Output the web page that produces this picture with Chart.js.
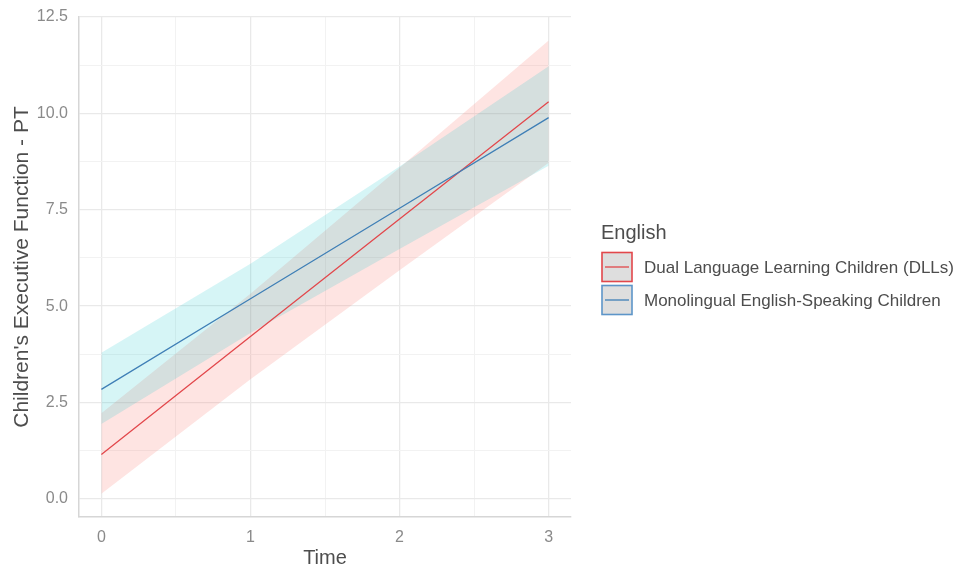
<!DOCTYPE html>
<html>
<head>
<meta charset="utf-8">
<script src="https://cdn.jsdelivr.net/npm/chart.js@4"></script>
<style>
  html, body { margin: 0; padding: 0; background: #ffffff; }
  #wrap { width: 967px; height: 570px; position: relative; }
</style>
</head>
<body>
<div id="wrap"><canvas id="chart" width="967" height="570"></canvas></div>
<script>
// Predicted executive function by time point, with 95% confidence ribbons
const timePoints = [0, 1, 2, 3];

const dllFit  = [1.15, 4.21, 7.26, 10.30];
const dllLow  = [0.13, 3.10, 5.93, 8.72];
const dllHigh = [2.22, 5.32, 8.59, 11.89];

const monoFit  = [2.84, 5.19, 7.54, 9.89];
const monoLow  = [1.94, 4.30, 6.48, 8.64];
const monoHigh = [3.79, 6.10, 8.62, 11.22];

const seriesNames = [
  'Dual Language Learning Children (DLLs)',
  'Monolingual English-Speaking Children'
];

const xTicks = [0, 1, 2, 3];
const xMinor = [0.5, 1.5, 2.5];
const yTicks = [0, 2.5, 5, 7.5, 10, 12.5];
const yMinor = [1.25, 3.75, 6.25, 8.75, 11.25];

const RED_LINE = '#e2474b';
const BLUE_LINE = '#3f7fb6';
const RED_FILL = 'rgba(248,118,109,0.2)';
const BLUE_FILL = 'rgba(0,191,196,0.16)';
const FONT = '"Liberation Sans", Arial, sans-serif';

const pts = (ys) => timePoints.map((t, i) => ({ x: t, y: ys[i] }));

const ribbonBase = { pointRadius: 0, borderWidth: 0, tension: 0 };
const lineBase = { pointRadius: 0, borderWidth: 1.3, fill: false, tension: 0 };

// Custom legend with grey key boxes outlined in the series colour
const keyLegend = {
  id: 'keyLegend',
  afterDraw(chart) {
    const ctx = chart.ctx;
    ctx.save();
    ctx.textBaseline = 'middle';
    ctx.textAlign = 'left';
    ctx.fillStyle = '#4d4d4d';
    ctx.font = '20px ' + FONT;
    ctx.fillText('English', 601, 233);
    const colours = [RED_LINE, '#5d95c8'];
    const lines = [RED_LINE, BLUE_LINE];
    const rows = [267, 300];
    rows.forEach((cy, i) => {
      const x = 602, w = 30, h = 29, y = cy - h / 2;
      ctx.fillStyle = '#dedede';
      ctx.fillRect(x, y, w, h);
      ctx.strokeStyle = colours[i];
      ctx.lineWidth = 1.6;
      ctx.strokeRect(x, y, w, h);
      ctx.beginPath();
      ctx.moveTo(x + 3, cy);
      ctx.lineTo(x + w - 3, cy);
      ctx.strokeStyle = lines[i];
      ctx.lineWidth = 1.3;
      ctx.stroke();
      ctx.fillStyle = '#4d4d4d';
      ctx.font = '17px ' + FONT;
      ctx.fillText(seriesNames[i], 644, cy + 1);
    });
    ctx.restore();
  }
};

const gridColour = (majors) => (c) =>
  (c.tick && majors.includes(c.tick.value)) ? '#e9e9e9' : '#f2f2f2';
const gridWidth = (majors) => (c) =>
  (c.tick && majors.includes(c.tick.value)) ? 1.3 : 1;

new Chart(document.getElementById('chart'), {
  type: 'line',
  data: {
    datasets: [
      { ...ribbonBase, data: pts(dllLow), fill: false, order: 5 },
      { ...ribbonBase, data: pts(dllHigh), fill: '-1', backgroundColor: RED_FILL, order: 4 },
      { ...ribbonBase, data: pts(monoLow), fill: false, order: 3 },
      { ...ribbonBase, data: pts(monoHigh), fill: '-1', backgroundColor: BLUE_FILL, order: 2 },
      { ...lineBase, label: seriesNames[0], data: pts(dllFit), borderColor: RED_LINE, order: 1 },
      { ...lineBase, label: seriesNames[1], data: pts(monoFit), borderColor: BLUE_LINE, order: 0 }
    ]
  },
  options: {
    responsive: false,
    animation: false,
    events: [],
    layout: { padding: { left: 0, top: 17, right: 396, bottom: 0 } },
    plugins: {
      legend: { display: false },
      tooltip: { enabled: false },
      filler: { propagate: false }
    },
    scales: {
      x: {
        type: 'linear',
        min: -0.15,
        max: 3.15,
        afterBuildTicks: (s) => { s.ticks = [...xTicks, ...xMinor].sort((a, b) => a - b).map(v => ({ value: v })); },
        afterFit: (s) => { s.height = 53; s.paddingLeft = 0; s.paddingRight = 0; },
        ticks: {
          autoSkip: false,
          maxRotation: 0,
          padding: 11,
          color: '#8a8a8a',
          font: { family: FONT, size: 16 },
          callback: (v) => xTicks.includes(v) ? String(v) : ''
        },
        grid: { drawTicks: false, color: gridColour(xTicks), lineWidth: gridWidth(xTicks) },
        border: { display: true, color: '#d6d6d6', width: 1.5 },
        title: {
          display: true,
          text: 'Time',
          color: '#4d4d4d',
          font: { family: FONT, size: 20 },
          padding: { top: 0, bottom: 0 }
        }
      },
      y: {
        type: 'linear',
        min: -0.47,
        max: 12.5,
        afterBuildTicks: (s) => { s.ticks = [...yTicks, ...yMinor].sort((a, b) => a - b).map(v => ({ value: v })); },
        afterFit: (s) => { s.width = 79; s.paddingTop = 0; s.paddingBottom = 0; },
        ticks: {
          autoSkip: false,
          padding: 11,
          color: '#8a8a8a',
          font: { family: FONT, size: 16 },
          callback: (v) => yTicks.includes(v) ? v.toFixed(1) : ''
        },
        grid: { drawTicks: false, color: gridColour(yTicks), lineWidth: gridWidth(yTicks) },
        border: { display: true, color: '#d6d6d6', width: 1.5 },
        title: {
          display: true,
          text: "Children's Executive Function - PT",
          color: '#4d4d4d',
          font: { family: FONT, size: 21 },
          padding: { top: 10, bottom: 0 }
        }
      }
    }
  },
  plugins: [keyLegend]
});
</script>
</body>
</html>
